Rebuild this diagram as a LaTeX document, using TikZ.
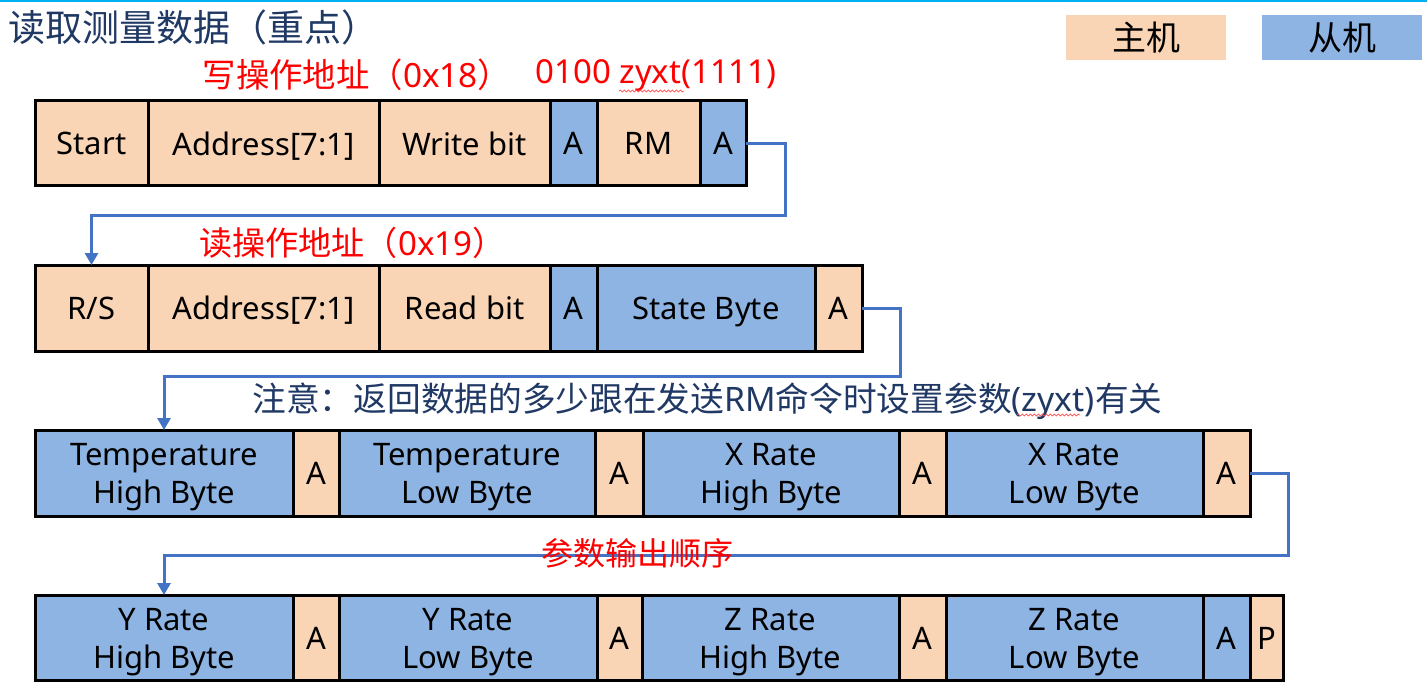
\documentclass[tikz,border=0pt]{standalone}
\usepackage{fontspec}
\setmainfont{Noto Sans}
\newfontfamily\cjk{Noto Sans CJK SC}
\usetikzlibrary{arrows.meta,decorations.pathmorphing}
\definecolor{ora}{HTML}{FAD5B5}
\definecolor{blu}{HTML}{8EB4E3}
\definecolor{navy}{HTML}{1F3864}
\definecolor{conn}{HTML}{4472C4}
\definecolor{topline}{HTML}{00B0F0}
\newcommand\mycell[7]{\node[cell,fill=#2,minimum width=#5,minimum height=#6] (#1) at (#3,#4) {\rule{0pt}{23pt}#7\rule{0pt}{0pt}};}
\begin{document}
\begin{tikzpicture}[x=1pt,y=-1pt,
  cell/.style={draw=black,line width=3pt,inner sep=0pt,outer sep=0pt,anchor=north west,
    font=\fontsize{31}{38}\selectfont,align=center,text=black,text depth=0pt},
  legend/.style={inner sep=0pt,outer sep=0pt,anchor=north west,font=\cjk\fontsize{34}{40}\selectfont,text=black},
  redlab/.style={inner sep=0pt,text=red,font=\fontsize{33.4}{36}\selectfont},
  connector/.style={draw=conn,line width=3pt},
  arr/.style={connector,-{Triangle[width=13pt,length=12pt]}},
  squig/.style={draw=red!70,line width=0.7pt,decorate,decoration={snake,amplitude=1pt,segment length=4pt}}]
\path[use as bounding box] (0,0) rectangle (1427,687);
\draw[topline,line width=2pt] (0,1) -- (1427,1);
% title
\node[anchor=west,inner sep=0pt,text=navy,font=\cjk\fontsize{37}{40}\selectfont] (title) at (8,27) {读取测量数据（重点）};
% legend
\node[legend,fill=ora,minimum width=160,minimum height=45] (lgm) at (1066,15) {主机};
\node[legend,fill=blu,minimum width=160,minimum height=45] (lgs) at (1262,15) {从机};
% row 1
\mycell{r1s}{ora}{35}{101}{113}{85}{Start}
\mycell{r1ad}{ora}{148}{101}{231}{85}{Address[7:1]}
\mycell{r1w}{ora}{379}{101}{171}{85}{Write bit}
\mycell{r1a1}{blu}{550}{101}{47}{85}{A}
\mycell{r1rm}{ora}{597}{101}{103}{85}{RM}
\mycell{r1a2}{blu}{700}{101}{46}{85}{A}
% row 2
\mycell{r2s}{ora}{35}{265}{113}{86}{R/S}
\mycell{r2ad}{ora}{148}{265}{231}{86}{Address[7:1]}
\mycell{r2r}{ora}{379}{265}{171}{86}{Read bit}
\mycell{r2a1}{blu}{550}{265}{47}{86}{A}
\mycell{r2sb}{blu}{597}{265}{218}{86}{State Byte}
\mycell{r2a2}{ora}{815}{265}{47}{86}{A}
% row 3
\mycell{r3th}{blu}{35}{430}{258}{86}{Temperature\\High Byte}
\mycell{r3a1}{ora}{293}{430}{46}{86}{A}
\mycell{r3tl}{blu}{339}{430}{256}{86}{Temperature\\Low Byte}
\mycell{r3a2}{ora}{595}{430}{48}{86}{A}
\mycell{r3xh}{blu}{643}{430}{256}{86}{X Rate\\High Byte}
\mycell{r3a3}{ora}{899}{430}{47}{86}{A}
\mycell{r3xl}{blu}{946}{430}{257}{86}{X Rate\\Low Byte}
\mycell{r3a4}{ora}{1203}{430}{47}{86}{A}
% row 4
\mycell{r4yh}{blu}{35}{595}{258}{85}{Y Rate\\High Byte}
\mycell{r4a1}{ora}{293}{595}{46}{85}{A}
\mycell{r4yl}{blu}{339}{595}{258}{85}{Y Rate\\Low Byte}
\mycell{r4a2}{ora}{597}{595}{45}{85}{A}
\mycell{r4zh}{blu}{642}{595}{257}{85}{Z Rate\\High Byte}
\mycell{r4a3}{ora}{899}{595}{47}{85}{A}
\mycell{r4zl}{blu}{946}{595}{257}{85}{Z Rate\\Low Byte}
\mycell{r4a4}{blu}{1203}{595}{47}{85}{A}
\mycell{r4p}{ora}{1250}{595}{33}{85}{P}
% connectors
\coordinate (k1) at (785,216);
\coordinate (k2) at (900,376);
\coordinate (k3) at (1288,555);
\draw[arr] (r1a2.east) -| (k1) -| (r2s.north);
\draw[arr] (r2a2.east) -| (k2) -| (r3th.north);
\draw[arr] (r3a4.east) -| (k3) -| (r4yh.north);
% labels
\node[redlab] (l1) at (357,75) {{\cjk 写操作地址（}0x18{\cjk ）}};
\node[redlab,font=\fontsize{33}{36}\selectfont] (l2) at (656,75) {0100 zyxt(1111)};
\node[redlab,font=\fontsize{33.1}{36}\selectfont] (l3) at (352.5,243) {{\cjk 读操作地址（}0x19{\cjk ）}};
\node[inner sep=0pt,text=navy,font=\fontsize{33.7}{36}\selectfont] (note) at (707.5,401) {{\cjk 注意：返回数据的多少跟在发送}RM{\cjk 命令时设置参数}(zyxt){\cjk 有关}};
\node[redlab,font=\cjk\fontsize{32}{36}\selectfont] (l4) at (637,553) {参数输出顺序};
% spell-check squiggles
\draw[squig] (619,91) -- (684,91);
\draw[squig] (1017,415) -- (1080,415);
\end{tikzpicture}
\end{document}
